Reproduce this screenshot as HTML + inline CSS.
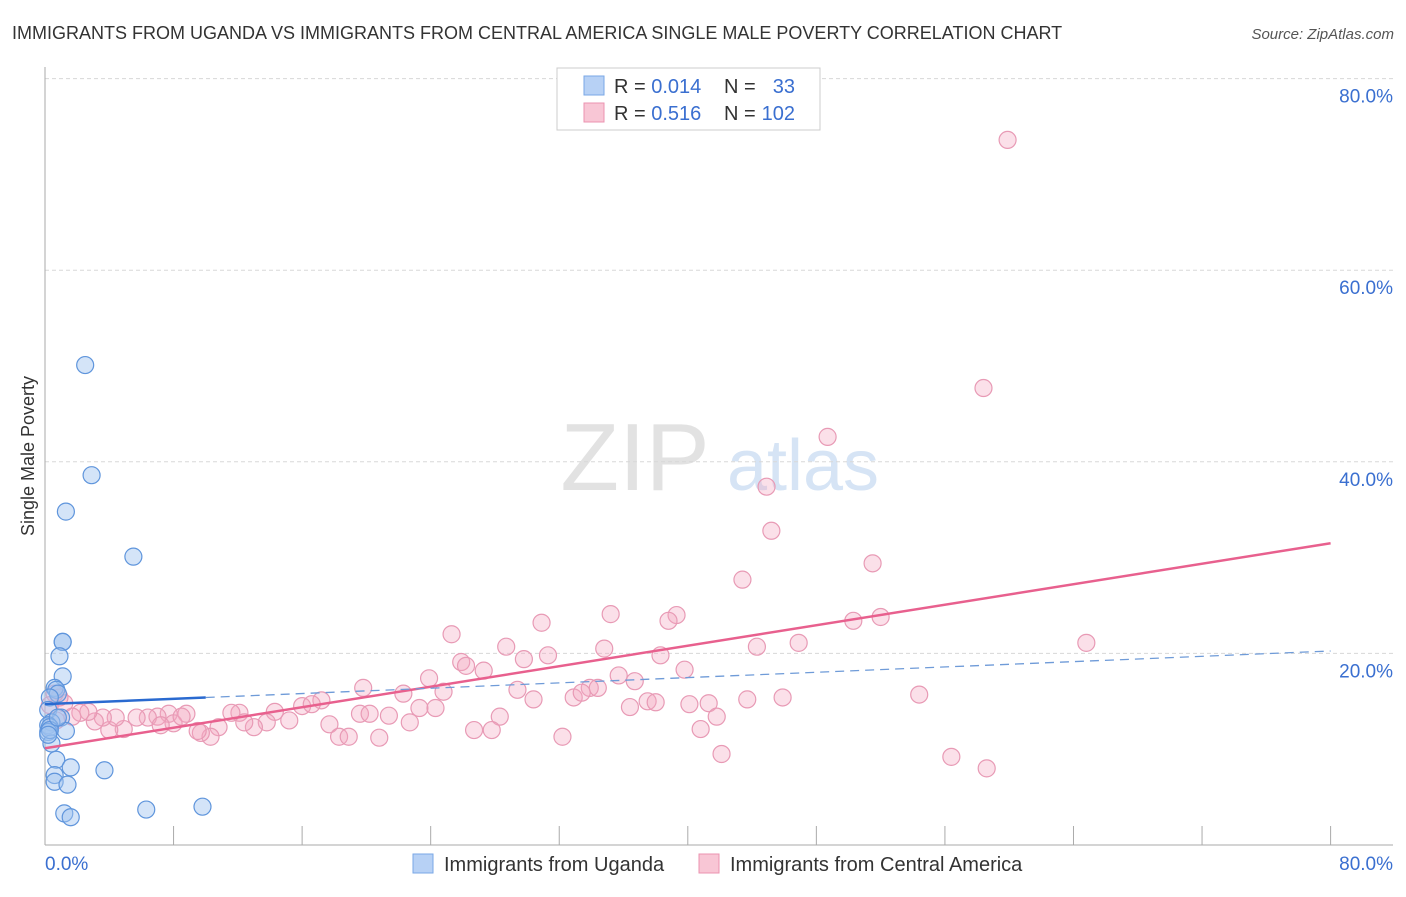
<!DOCTYPE html>
<html><head><meta charset="utf-8"><style>
body{margin:0;background:#fff;font-family:"Liberation Sans",sans-serif;}
svg text{font-family:"Liberation Sans",sans-serif;}
</style></head><body>
<svg id="chart" width="1406" height="892" xmlns="http://www.w3.org/2000/svg">
<text x="12" y="39" font-size="18" fill="#333">IMMIGRANTS FROM UGANDA VS IMMIGRANTS FROM CENTRAL AMERICA SINGLE MALE POVERTY CORRELATION CHART</text>
<text x="1394" y="39" font-size="15" font-style="italic" fill="#555" text-anchor="end">Source: ZipAtlas.com</text>
<text transform="translate(34,456) rotate(-90)" font-size="18" fill="#333" text-anchor="middle">Single Male Poverty</text>
<g>
<text x="635" y="490" font-size="96" font-family="Liberation Serif" fill="#e2e2e2" text-anchor="middle">ZIP</text>
<text x="803" y="490" font-size="72" fill="#d6e4f5" text-anchor="middle">atlas</text>
</g>
<g id="grid"></g>
<g id="axes"></g>
<g id="pts"></g>
<g id="lines"></g>
<g>
<rect x="557" y="68" width="263" height="62" fill="#fff" stroke="#ccc"/>
<rect x="584" y="76" width="20" height="19" fill="#b7d1f5" stroke="#7aa7e6"/>
<text x="614" y="93" font-size="20" fill="#333">R = <tspan fill="#3a6fd0">0.014</tspan></text>
<text x="724" y="93" font-size="20" fill="#333">N = </text><text x="795" y="93" font-size="20" fill="#3a6fd0" text-anchor="end">33</text>
<rect x="584" y="103" width="20" height="19" fill="#f8c6d5" stroke="#eb93b0"/>
<text x="614" y="120" font-size="20" fill="#333">R = <tspan fill="#3a6fd0"> 0.516</tspan></text>
<text x="724" y="120" font-size="20" fill="#333">N = </text><text x="795" y="120" font-size="20" fill="#3a6fd0" text-anchor="end">102</text>
</g>
<g>
<rect x="413" y="854" width="20" height="19" fill="#b7d1f5" stroke="#7aa7e6"/>
<text x="444" y="871" font-size="20" fill="#333">Immigrants from Uganda</text>
<rect x="699" y="854" width="20" height="19" fill="#f8c6d5" stroke="#eb93b0"/>
<text x="730" y="871" font-size="20" fill="#333">Immigrants from Central America</text>
</g>
</svg>
<script>
const pinkX=[59.9,58.4,48.7,44.9,45.2,43.4,51.5,35.2,39.3,38.8,50.3,52.0,64.8,30.9,25.3,28.7,34.8,31.3,38.3,44.3,46.9,25.9,29.8,27.3,26.2,23.9,35.7,39.8,36.7,19.8,22.3,24.8,29.4,33.9,34.4,30.4,32.9,33.4,37.5,38.0,40.1,41.3,43.7,45.9,54.4,17.2,16.0,16.6,23.3,19.6,20.2,28.3,36.4,41.8,21.4,22.7,24.3,26.7,27.8,32.2,40.8,42.1,56.4,58.6,17.7,18.3,18.9,20.8,14.3,15.2,13.8,13.0,12.1,11.6,12.4,10.8,10.3,9.7,8.8,7.7,7.0,6.4,5.7,4.9,4.0,4.4,3.6,3.1,2.7,2.2,1.7,1.2,0.9,0.6,0.3,0.7,9.5,8.0,8.5,7.2];
const pinkY=[73.6,47.7,42.6,37.4,32.8,27.7,29.4,24.1,24.0,23.4,23.4,23.8,21.1,23.2,22.0,20.7,20.5,19.8,19.8,20.7,21.1,19.1,19.4,18.2,18.7,17.4,17.7,18.3,17.1,16.4,15.8,16.0,16.2,16.4,16.4,15.2,15.4,15.9,15.0,14.9,14.7,14.8,15.2,15.4,15.7,15.1,14.5,14.7,14.3,13.7,13.7,13.4,14.4,13.4,13.5,12.8,14.3,12.0,12.0,11.3,12.1,9.5,9.2,8.0,12.6,11.3,11.3,11.2,13.9,13.0,12.8,12.3,13.8,13.8,12.8,12.3,11.3,11.7,13.7,13.7,13.4,13.3,13.3,12.1,12.0,13.3,13.3,12.9,13.9,13.8,13.4,14.8,15.4,15.8,14.6,13.0,11.9,12.7,13.4,12.5];
const blueX=[2.5,2.9,1.3,5.5,1.1,1.1,0.9,1.1,0.6,0.7,0.8,0.3,0.2,1.0,0.4,0.2,0.3,0.2,1.3,0.4,0.7,0.6,1.6,3.7,0.6,1.4,1.2,1.6,6.3,9.8,0.3,0.2,0.8];
const blueY=[50.1,38.6,34.8,30.1,21.2,21.2,19.7,17.6,16.4,16.2,15.8,15.4,14.1,13.3,12.8,12.5,12.3,11.8,11.9,10.6,8.9,7.3,8.1,7.8,6.6,6.3,3.3,2.9,3.7,4.0,12.0,11.5,13.3];
const pinkTrend=[10.1,31.5];
const blueTrend=[14.7,20.25];
const yTicks=[20,40,60,80];
const xTickLabels=["0.0%","80.0%"];
const NS="http://www.w3.org/2000/svg";
const X=v=>45+v*16.07, Y=v=>845-v*9.58;
function mk(tag,attrs,parent){const e=document.createElementNS(NS,tag);for(const k in attrs)e.setAttribute(k,attrs[k]);document.getElementById(parent).appendChild(e);return e;}
yTicks.forEach(t=>{
 const g=mk('line',{x1:45,x2:1393,y1:Y(t),y2:Y(t),stroke:'#d8d8d8','stroke-dasharray':'4,3'},'grid');
 
 
 const l=mk('text',{x:1393,y:Y(t)+24,'font-size':19,fill:'#3a6fd0','text-anchor':'end'},'grid');
 l.textContent=t.toFixed(1)+'%';
 
 
});
const ya=mk('line',{x1:45,x2:45,y1:67,y2:845,stroke:'#aaa'},'axes');


const xa=mk('line',{x1:45,x2:1393,y1:845,y2:845,stroke:'#aaa'},'axes');


for(let i=1;i<=10;i++){const t=mk('line',{x1:X(i*8),x2:X(i*8),y1:826,y2:845,stroke:'#aaa'},'axes');
 
 }
const l0=mk('text',{x:45,y:870,'font-size':19,fill:'#3a6fd0'},'axes');l0.textContent=xTickLabels[0];


const l1=mk('text',{x:1393,y:870,'font-size':19,fill:'#3a6fd0','text-anchor':'end'},'axes');l1.textContent=xTickLabels[1];


pinkX.forEach((x,i)=>{const c=mk('circle',{cx:X(x),cy:Y(pinkY[i]),r:8.5,fill:'rgba(244,165,192,0.35)',stroke:'#e89ab5','stroke-width':1.2},'pts');
 
 });
blueX.forEach((x,i)=>{const c=mk('circle',{cx:X(x),cy:Y(blueY[i]),r:8.5,fill:'rgba(160,196,240,0.45)',stroke:'#5f95dc','stroke-width':1.2},'pts');
 
 });
const pt=mk('line',{x1:X(0),y1:Y(pinkTrend[0]),x2:X(80),y2:Y(pinkTrend[1]),stroke:'#e8608e','stroke-width':2.5},'lines');


const bf=v=>blueTrend[0]+(blueTrend[1]-blueTrend[0])*v/80;
const bd=mk('line',{x1:X(10),y1:Y(bf(10)),x2:X(80),y2:Y(bf(80)),stroke:'#6f9bd8','stroke-width':1.3,'stroke-dasharray':'9,6'},'lines');


const bs=mk('line',{x1:X(0),y1:Y(bf(0)),x2:X(10),y2:Y(bf(10)),stroke:'#2a6ad0','stroke-width':2.5},'lines');


</script>
</body></html>
